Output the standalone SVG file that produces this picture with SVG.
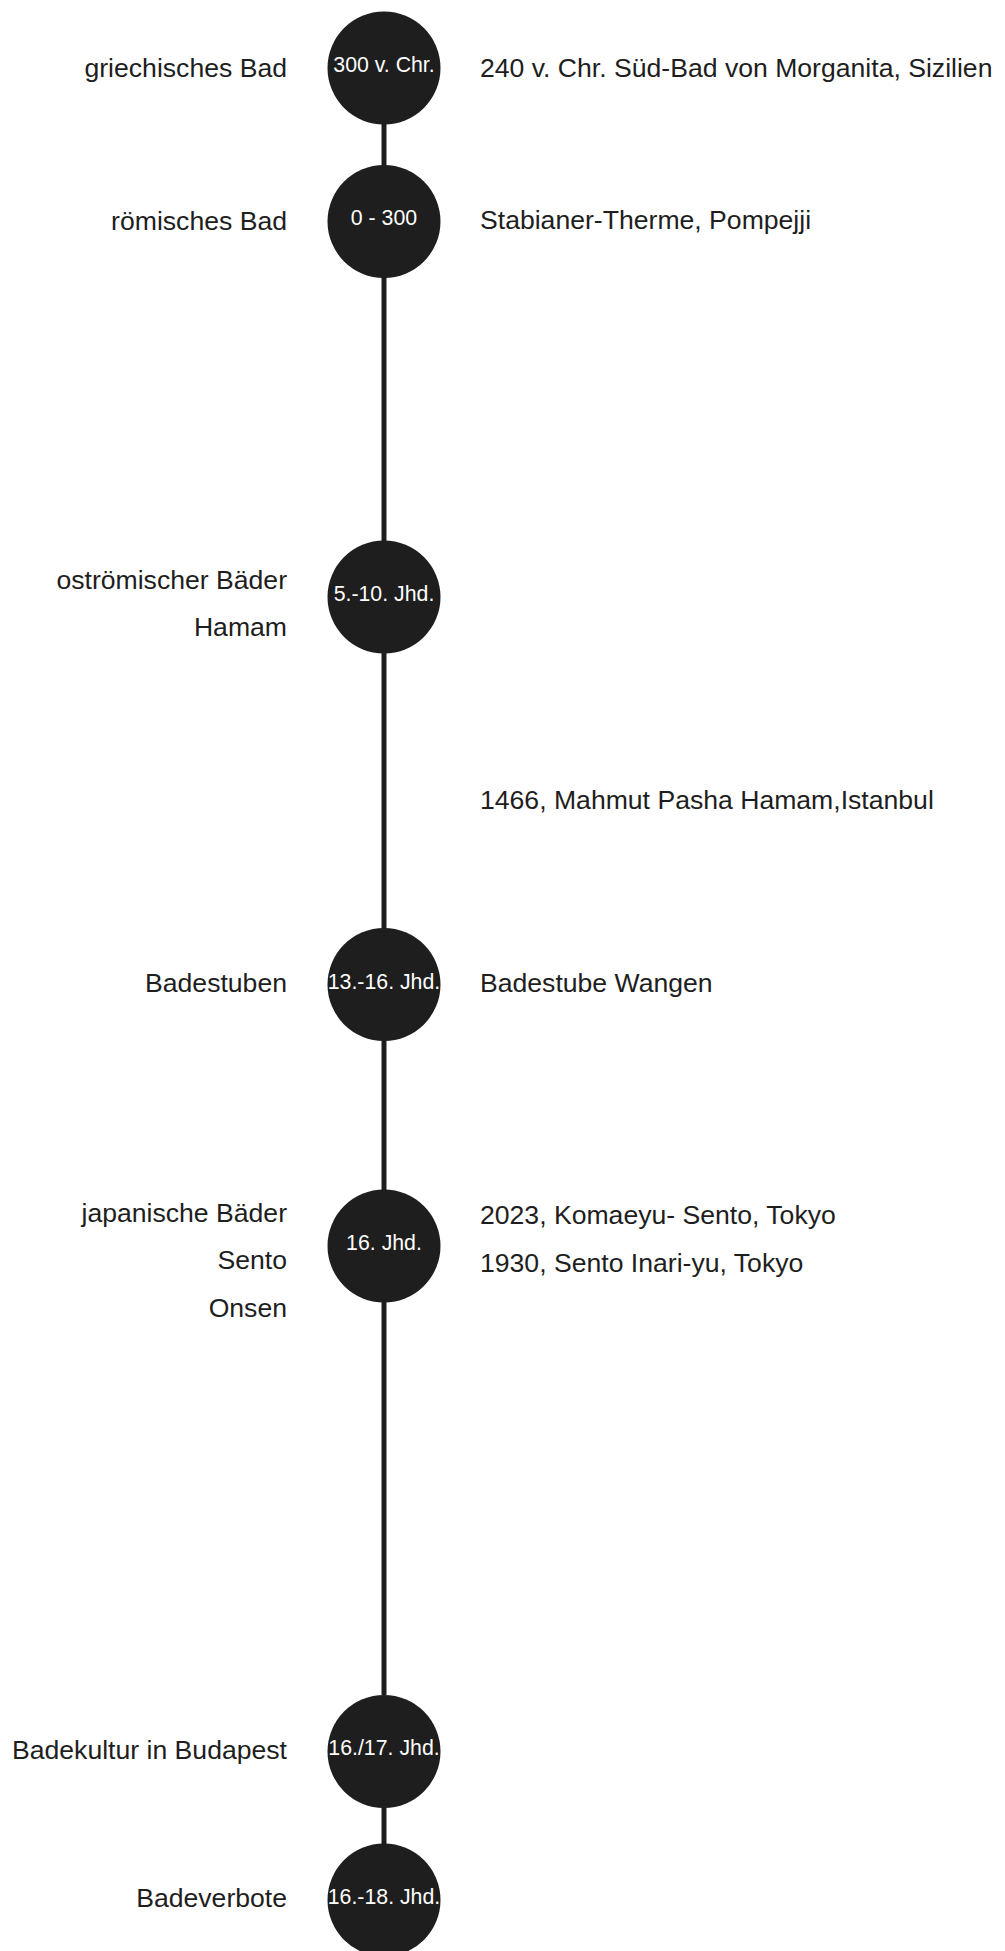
<svg xmlns="http://www.w3.org/2000/svg" width="1005" height="1951" viewBox="0 0 1005 1951">
<style>
.bg{fill:#ffffff}
.edge{stroke:#1e1e1e;stroke-width:5;fill:none}
.dot{fill:#1e1e1e}
.date{font-family:"Liberation Sans",Arial,Helvetica,sans-serif;font-size:21.3px;fill:#ffffff;text-anchor:middle}
.lbl{font-family:"Liberation Sans",Arial,Helvetica,sans-serif;font-size:26.6px;fill:#1e1e1e}
.left{text-anchor:end}
.right{text-anchor:start}
</style>
<rect class="bg" x="0" y="0" width="1005" height="1951"/>
<g id="connectors">
<line class="edge" x1="384" y1="124" x2="384" y2="166"/>
<line class="edge" x1="384" y1="277" x2="384" y2="541"/>
<line class="edge" x1="384" y1="653" x2="384" y2="929"/>
<line class="edge" x1="384" y1="1040" x2="384" y2="1190"/>
<line class="edge" x1="384" y1="1302" x2="384" y2="1695"/>
<line class="edge" x1="384" y1="1807" x2="384" y2="1844"/>
</g>
<g id="node-griechisch">
<circle class="dot" cx="384" cy="68" r="56.5"/>
<text class="date" x="384" y="72">300 v. Chr.</text>
<text class="lbl left" x="287" y="76.5">griechisches Bad</text>
<text class="lbl right" x="480" y="77">240 v. Chr. Süd-Bad von Morganita, Sizilien</text>
</g>
<g id="node-roemisch">
<circle class="dot" cx="384" cy="221.5" r="56.5"/>
<text class="date" x="384" y="224.5">0 - 300</text>
<text class="lbl left" x="287" y="229.5">römisches Bad</text>
<text class="lbl right" x="480" y="228.5">Stabianer-Therme, Pompejji</text>
</g>
<g id="node-ostroemisch">
<circle class="dot" cx="384" cy="597" r="56.5"/>
<text class="date" x="384" y="601">5.-10. Jhd.</text>
<text class="lbl left" x="287" y="588.5">oströmischer Bäder</text>
<text class="lbl left" x="287" y="636">Hamam</text>
</g>
<g id="note-hamam">
<text class="lbl right" x="480" y="808.5">1466, Mahmut Pasha Hamam,Istanbul</text>
</g>
<g id="node-badestuben">
<circle class="dot" cx="384" cy="984.5" r="56.5"/>
<text class="date" x="384" y="988.5">13.-16. Jhd.</text>
<text class="lbl left" x="287" y="992">Badestuben</text>
<text class="lbl right" x="480" y="992">Badestube Wangen</text>
</g>
<g id="node-japan">
<circle class="dot" cx="384" cy="1246" r="56.5"/>
<text class="date" x="384" y="1249.5">16. Jhd.</text>
<text class="lbl left" x="287" y="1221.5">japanische Bäder</text>
<text class="lbl left" x="287" y="1269">Sento</text>
<text class="lbl left" x="287" y="1316.5">Onsen</text>
<text class="lbl right" x="480" y="1224">2023, Komaeyu- Sento, Tokyo</text>
<text class="lbl right" x="480" y="1272">1930, Sento Inari-yu, Tokyo</text>
</g>
<g id="node-budapest">
<circle class="dot" cx="384" cy="1751.5" r="56.5"/>
<text class="date" x="384" y="1755">16./17. Jhd.</text>
<text class="lbl left" x="287" y="1758.5">Badekultur in Budapest</text>
</g>
<g id="node-badeverbote">
<circle class="dot" cx="384" cy="1900" r="56.5"/>
<text class="date" x="384" y="1903.5">16.-18. Jhd.</text>
<text class="lbl left" x="287" y="1907">Badeverbote</text>
</g>
</svg>
